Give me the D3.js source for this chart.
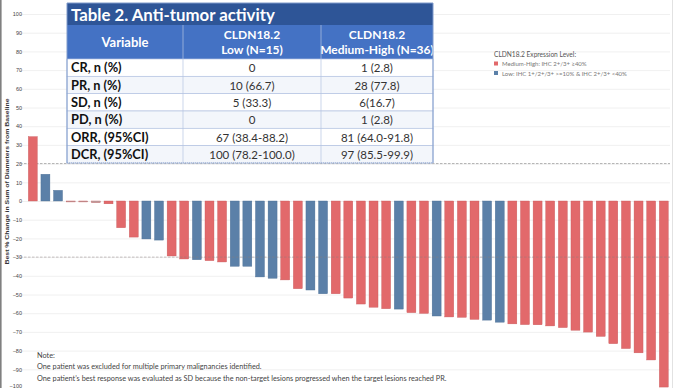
<!DOCTYPE html>
<html><head><meta charset="utf-8">
<script src="https://cdn.jsdelivr.net/npm/d3@7"></script>
<style>html,body{margin:0;padding:0;background:#fff;}svg{display:block;}</style>
</head><body>
<svg id="c" width="677" height="388"></svg>
<script>
// ---- data ----
const patients = d3.range(1, 52).map(i => "P" + i);
const values = [34.4, 14.3, 5.7, -0.5, -0.5, -0.9, -1.5, -14.3, -19.3, -20.3, -20.9,
  -29.4, -31.0, -31.4, -31.9, -32.6, -34.9, -34.9, -40.6, -41.3, -42.2, -46.9, -47.6,
  -49.6, -49.6, -51.9, -55.1, -56.8, -57.6, -57.8, -59.7, -60.1, -61.5, -62.0, -62.2,
  -63.3, -63.7, -64.8, -65.7, -66.1, -66.2, -66.8, -67.7, -69.1, -70.1, -72.4, -76.3,
  -78.9, -81.2, -85.0, -99.5];
const groups = ["H","L","L","H","H","H","H","H","H","L","L","H","H","L","H","H","L","L","L","L",
  "H","H","L","L","H","H","H","H","H","L","H","H","L","H","H","H","L","L","H","H","H","H","H",
  "H","H","H","H","H","H","H","H"];
const yTicks = d3.range(-100, 101, 10);
const refLines = [20, -30];
const legendTitle = "CLDN18.2 Expression Level:";
const legendItems = [
  {key: "H", label: "Medium-High: IHC 2+/3+ \u226540%"},
  {key: "L", label: "Low: IHC 1+/2+/3+ >=10% & IHC 2+/3+ <40%"}
];
const yTitle = "Best % Change in Sum of Diameters from Baseline";
const tableTitle = "Table 2. Anti-tumor activity";
const tableHeader = ["Variable", ["CLDN18.2", "Low (N=15)"], ["CLDN18.2", "Medium-High (N=36)"]];
const rowLabels = ["CR, n (%)", "PR, n (%)", "SD, n (%)", "PD, n (%)", "ORR, (95%CI)", "DCR, (95%CI)"];
const lowCol = ["0", "10 (66.7)", "5 (33.3)", "0", "67 (38.4-88.2)", "100 (78.2-100.0)"];
const highCol = ["1 (2.8)", "28 (77.8)", "6(16.7)", "1 (2.8)", "81 (64.0-91.8)", "97 (85.5-99.9)"];
const notes = ["Note:",
  "One patient was excluded for multiple primary malignancies identified.",
  "One patient\u2019s best response was evaluated as SD because the non-target lesions progressed when the target lesions reached PR."];

// ---- chart ----
const color = {H: "#e2696b", L: "#5b80a8"};
const stroke = {H: "#c85a5c", L: "#4a6d93"};
const svg = d3.select("#c");
svg.append("rect").attr("width", 677).attr("height", 388).attr("fill", "#fff");

const y = d3.scaleLinear().domain([-100, 100]).range([388, 14]);
const x = d3.scaleBand().domain(patients).range([26.5, 670.1]).paddingInner(0.29).paddingOuter(0.145);

// gridlines
svg.append("g").selectAll("line").data(yTicks).join("line")
  .attr("x1", 20).attr("x2", 670).attr("y1", d => y(d) + 0.5).attr("y2", d => y(d) + 0.5)
  .attr("stroke", "#ececec").attr("stroke-width", 0.8);

// y axis labels
const yAxis = d3.axisLeft(y).tickValues(yTicks).tickSize(0).tickPadding(0);
const ga = svg.append("g").attr("transform", "translate(22,0)").call(yAxis);
ga.select(".domain").remove();
ga.selectAll("text").attr("font-family", "Liberation Sans, Arial, sans-serif")
  .attr("font-size", 5.5).attr("fill", "#444");
ga.selectAll(".tick").filter(d => d === -100).select("text").attr("dy", "-0.1em");

// y title
svg.append("text").attr("transform", `translate(8.8,181.5) rotate(-90)`)
  .attr("text-anchor", "middle").attr("font-family", "Liberation Sans, Arial, sans-serif")
  .attr("font-size", 6.2).attr("font-weight", "bold").attr("fill", "#333")
  .attr("textLength", 166).attr("lengthAdjust", "spacingAndGlyphs").text(yTitle);

// dashed 20 line (behind)
svg.append("line").attr("x1", 20).attr("x2", 670).attr("y1", y(20)).attr("y2", y(20))
  .attr("stroke", "#9a9a9a").attr("stroke-width", 0.8).attr("stroke-dasharray", "2.5,1.5");

// bars
svg.append("g").selectAll("rect").data(values).join("rect")
  .attr("x", (d, i) => x(patients[i]))
  .attr("width", x.bandwidth())
  .attr("y", d => y(Math.max(0, d)))
  .attr("height", d => Math.max(0.8, Math.abs(y(d) - y(0))))
  .attr("fill", (d, i) => Math.abs(d) < 1 ? "#b9a5a6" : color[groups[i]])
  .attr("stroke", (d, i) => stroke[groups[i]]).attr("stroke-width", 0.4);

// -30 line (over bars)
svg.append("line").attr("x1", 20).attr("x2", 670).attr("y1", y(-30)).attr("y2", y(-30))
  .attr("stroke", "#8a7d7d").attr("stroke-width", 0.6).attr("stroke-dasharray", "2.5,1.5").attr("opacity", 0.8);

// legend
const lg = svg.append("g").attr("font-family", "Lato, Liberation Sans, sans-serif").attr("fill", "#555");
lg.append("text").attr("x", 494).attr("y", 57).attr("font-size", 6.6).attr("fill", "#555").text(legendTitle);
legendItems.forEach((it, i) => {
  lg.append("rect").attr("x", 494).attr("y", 61.5 + i * 9.5).attr("width", 4).attr("height", 4).attr("fill", color[it.key]);
  lg.append("text").attr("x", 502).attr("y", 66 + i * 9.5).attr("font-size", 6).attr("fill", "#777").text(it.label);
});

// table
const T = {x0: 67, x1: 433, titleTop: 3, titleH: 22, headH: 34, rowH: 17.33};
const cols = [67, 183, 321, 433];
const tg = svg.append("g").attr("font-family", "Lato, 'Open Sans', sans-serif");
tg.append("rect").attr("x", T.x0).attr("y", T.titleTop).attr("width", T.x1 - T.x0).attr("height", T.titleH)
  .attr("fill", "#2e5597");
tg.append("text").attr("x", T.x0 + 4).attr("y", T.titleTop + 18).attr("font-size", 16.8).attr("font-weight", "bold")
  .attr("fill", "#fff").text(tableTitle);
const hy = T.titleTop + T.titleH;
tg.append("rect").attr("x", T.x0).attr("y", hy).attr("width", T.x1 - T.x0).attr("height", T.headH).attr("fill", "#4472c4");
tg.append("text").attr("x", (cols[0] + cols[1]) / 2).attr("y", hy + 21.5).attr("text-anchor", "middle")
  .attr("font-size", 13).attr("font-weight", "bold").attr("fill", "#fff").text(tableHeader[0]);
[1, 2].forEach(c => {
  tableHeader[c].forEach((t, k) => {
    tg.append("text").attr("x", (cols[c] + cols[c + 1]) / 2).attr("y", hy + 14 + k * 15).attr("text-anchor", "middle")
      .attr("font-size", 12).attr("font-weight", "bold").attr("fill", "#fff").text(t);
  });
});
const ry = hy + T.headH;
rowLabels.forEach((lab, r) => {
  const top = ry + r * T.rowH;
  tg.append("rect").attr("x", T.x0).attr("y", top).attr("width", T.x1 - T.x0).attr("height", T.rowH)
    .attr("fill", r % 2 ? "#f3f6fb" : "#ffffff").attr("stroke", "#b4c4e2").attr("stroke-width", 0.7);
  tg.append("text").attr("x", T.x0 + 4).attr("y", top + 13.3).attr("font-size", 12.8).attr("font-weight", "bold")
    .attr("fill", "#111").text(lab);
  tg.append("text").attr("x", (cols[1] + cols[2]) / 2).attr("y", top + 13.3).attr("text-anchor", "middle")
    .attr("font-size", 11.5).attr("fill", "#333").text(lowCol[r]);
  tg.append("text").attr("x", (cols[2] + cols[3]) / 2).attr("y", top + 13.3).attr("text-anchor", "middle")
    .attr("font-size", 11.5).attr("fill", "#333").text(highCol[r]);
});
const bottom = ry + rowLabels.length * T.rowH;
[1, 2].forEach(c => {
  tg.append("line").attr("x1", cols[c]).attr("x2", cols[c]).attr("y1", hy).attr("y2", bottom)
    .attr("stroke", "#b4c4e2").attr("stroke-width", 0.7);
});
tg.append("path").attr("d", `M${T.x0},${bottom} V${T.titleTop} H${T.x1} V${bottom}`)
  .attr("fill", "none").attr("stroke", "#7f9acb").attr("stroke-width", 1);
tg.append("line").attr("x1", T.x0).attr("x2", T.x1).attr("y1", bottom).attr("y2", bottom)
  .attr("stroke", "#8ea4cf").attr("stroke-width", 1.2).attr("stroke-dasharray", "1,1");

// notes
const ng = svg.append("g").attr("font-family", "Lato, 'Open Sans', sans-serif").attr("fill", "#444");
notes.forEach((t, i) => {
  ng.append("text").attr("x", 37).attr("y", 357.5 + i * 11.5).attr("font-size", 7.3).text(t);
});

// frame
svg.append("rect").attr("x", 0).attr("y", 0).attr("width", 1.6).attr("height", 388).attr("fill", "#808080");
svg.append("line").attr("x1", 672.5).attr("x2", 672.5).attr("y1", 0).attr("y2", 388).attr("stroke", "#e2e2e2");
</script>
</body></html>
